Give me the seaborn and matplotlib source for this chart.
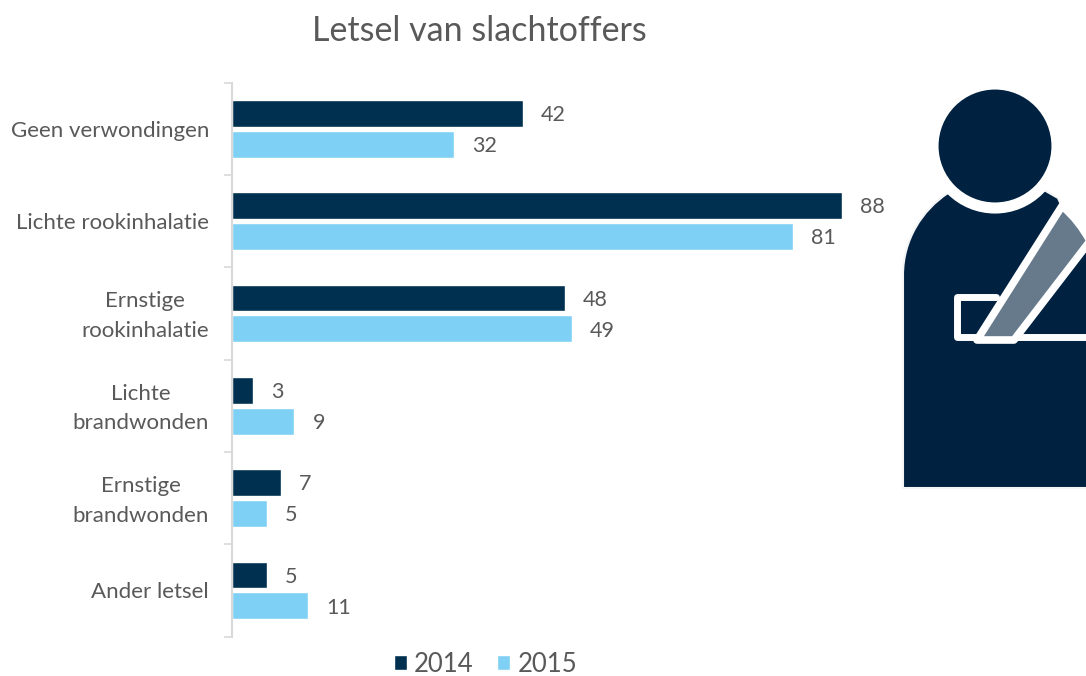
import pandas as pd
import seaborn as sns
from matplotlib import pyplot as plt
from matplotlib.patches import Circle, PathPatch
from matplotlib.path import Path
from matplotlib.transforms import ScaledTranslation

categories = ["Geen verwondingen", "Lichte rookinhalatie", "Ernstige\nrookinhalatie",
              "Lichte\nbrandwonden", "Ernstige\nbrandwonden", "Ander letsel"]
values_2014 = [42, 88, 48, 3, 7, 5]
values_2015 = [32, 81, 49, 9, 5, 11]
years = ["2014", "2015"]

W, H = 1086, 676
GREY = "#595959"
DARK = "#00304f"
LIGHT = "#7fd0f5"
ICON = "#00213f"

sns.set_theme(style="white")
plt.rcParams["font.family"] = ["Lato", "DejaVu Sans"]

df = pd.DataFrame({"cat": categories * 2,
                   "year": [years[0]] * 6 + [years[1]] * 6,
                   "value": values_2014 + values_2015})

fig = plt.figure(figsize=(W / 100, H / 100), dpi=100)
ax = fig.add_axes([232 / W, 1 - 636.6 / H, (W - 232) / W, (637 - 83) / H])

sns.barplot(data=df, y="cat", x="value", hue="year", palette=[DARK, LIGHT],
            width=0.67, gap=0.13, dodge=True, saturation=1, ax=ax, legend=True)

ax.set_xlim(0, (W - 232) / 6.93)
ax.set_ylim(5.5, -0.5)
ax.set_xlabel("")
ax.set_ylabel("")
ax.xaxis.set_visible(False)

for side in ["top", "right", "bottom"]:
    ax.spines[side].set_visible(False)
ax.spines["left"].set_color("#d9d9d9")
ax.spines["left"].set_linewidth(1.5)

ax.set_yticks([i - 0.5 for i in range(7)], minor=True)
ax.tick_params(axis="y", which="minor", length=6, width=1.2, color="#d9d9d9", left=True)
ax.tick_params(axis="y", which="major", length=0, pad=16.5, labelsize=16, labelcolor=GREY)
for lab in ax.get_yticklabels():
    lab.set_multialignment("center")
    lab.set_linespacing(1.6)
    if "\n" in lab.get_text():
        lab.set_transform(lab.get_transform() + ScaledTranslation(0, 3 / 72, fig.dpi_scale_trans))

for cont in ax.containers:
    for lab in ax.bar_label(cont, padding=13, fontsize=15.5, color=GREY):
        lab.xyann = (13, -1.2)

handles, labels = ax.get_legend_handles_labels()
ax.legend(handles, labels, loc="center", bbox_to_anchor=(485.5 / W, 1 - 664 / H),
          bbox_transform=fig.transFigure, ncol=2, frameon=False, fontsize=18.5,
          labelcolor=GREY, handlelength=0.5, handleheight=0.5, handletextpad=0.28,
          columnspacing=0.93, borderpad=0)

fig.text(479 / W, 1 - 31 / H, "Letsel van slachtoffers", ha="center", va="center",
         fontsize=24.5, color=GREY)

# icon, in pixel coordinates
icon = fig.add_axes([0, 0, 1, 1], zorder=5)
icon.set_xlim(0, W)
icon.set_ylim(H, 0)
icon.axis("off")
icon.patch.set_alpha(0)

body = Path([(903, 488), (903, 275), (903, 240), (922, 210), (948, 193),
             (1000, 185), (1044, 190), (1058, 198), (1062, 207), (1090, 241), (1090, 488), (903, 488)],
            [Path.MOVETO, Path.LINETO, Path.CURVE4, Path.CURVE4, Path.CURVE4,
             Path.LINETO, Path.LINETO, Path.LINETO, Path.LINETO, Path.LINETO, Path.LINETO, Path.CLOSEPOLY])
icon.add_patch(PathPatch(body, fc=ICON, ec="#f4f5f6", lw=1.5))
icon.add_patch(Circle((995, 146), 62, fc=ICON, ec="white", lw=8))

icon.plot([975, 957, 957, 996], [337, 337, 297, 297], color="white", lw=5,
          solid_joinstyle="round", solid_capstyle="round")
icon.plot([1016, 1090], [337, 337], color="white", lw=5)

sling = Path([(1062, 206), (1074, 216), (1083, 228), (1090, 241), (1014, 340), (977, 340), (1062, 206)],
             [Path.MOVETO, Path.CURVE4, Path.CURVE4, Path.CURVE4, Path.LINETO, Path.LINETO, Path.CLOSEPOLY])
icon.add_patch(PathPatch(sling, fc="#667a8b", ec="white", lw=5.5, joinstyle="round"))

fig.savefig("out.png", dpi=100)
